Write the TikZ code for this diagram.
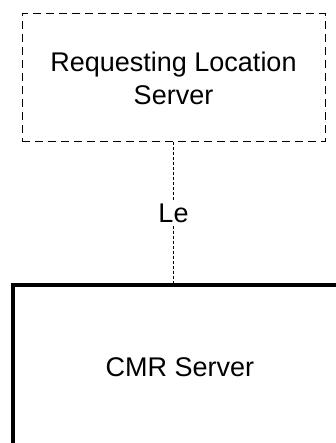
\documentclass[tikz,border=0pt]{standalone}
\usepackage{fontspec}
\setmainfont{Liberation Sans}
\usetikzlibrary{calc}
\begin{document}
\begin{tikzpicture}[x=1pt,y=1pt,
  lbl/.style={font=\fontsize{27}{33}\selectfont},
  rlsbox/.style={draw, line width=1pt, dash pattern=on 8pt off 5pt, minimum width=303pt, minimum height=128pt, align=center, inner sep=0pt, lbl},
  cmrbox/.style={draw, line width=3.2pt, minimum width=334pt, minimum height=164pt, inner sep=0pt, lbl},
  iface/.style={line width=0.6pt, dash pattern=on 3pt off 2pt},
  ifacelbl/.style={lbl, inner sep=3pt}
]
\useasboundingbox (0,0) rectangle (336,-443);
\clip (0,0) rectangle (336,-443);
\node[rlsbox] (rls) at (173.5,-78) {Requesting Location\\Server};
\node[cmrbox] (cmr) at (180,-367) {CMR Server};
\coordinate (cmrtop) at (rls.south |- cmr.north);
\node[ifacelbl] (le) at ($(rls.south)!0.5!(cmrtop)$) {Le};
\draw[iface] (rls.south) -- (le.north);
\draw[iface] (le.south) -- (cmrtop);
\end{tikzpicture}
\end{document}
